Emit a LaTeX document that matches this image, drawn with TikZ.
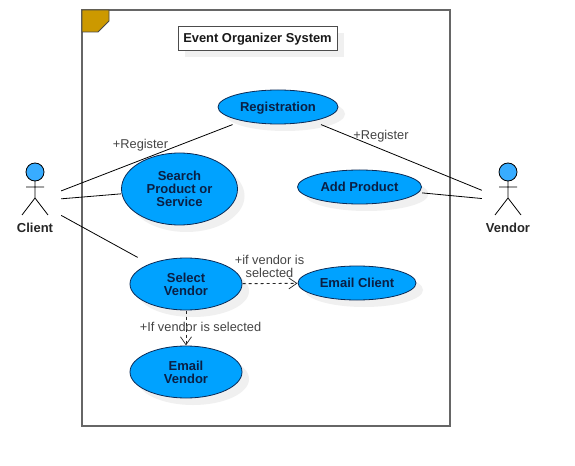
\documentclass[tikz,border=0pt]{standalone}
\usepackage{fontspec}
\setmainfont{Liberation Sans}
\usetikzlibrary{arrows.meta,shapes.geometric,shadows,fit}
\definecolor{ucfill}{HTML}{00A2FF}
\definecolor{ucline}{HTML}{0B2A55}
\definecolor{uctext}{HTML}{0A1F44}
\definecolor{framegray}{HTML}{666666}
\definecolor{tabgold}{HTML}{CC9900}
\definecolor{headblue}{HTML}{38ACFF}
\definecolor{labelgray}{HTML}{444444}
\definecolor{shadowgray}{HTML}{F0F0F0}
\tikzset{
  softshadow/.style={general shadow={fill=shadowgray,shadow xshift=7bp,shadow yshift=-7bp}},
  usecase/.style 2 args={ellipse,draw=ucline,line width=0.8bp,fill=ucfill,softshadow,
    minimum width=#1bp,minimum height=#2bp,inner sep=0pt,align=center,text=uctext,
    font=\fontsize{13bp}{13bp}\selectfont\bfseries},
  usebox/.style={rectangle,inner sep=0pt,draw=none},
  actorbox/.style={rectangle,draw=none,minimum width=52bp,minimum height=76bp,inner sep=0pt},
  actorname/.style={text=black!85,font=\fontsize{13bp}{13bp}\selectfont\bfseries},
  assoc/.style={draw=black,line width=0.8bp},
  depend/.style={draw=black!85,line width=0.9bp,dash pattern=on 3bp off 3bp,
    -{Straight Barb[length=8bp,width=11bp,line width=0.7bp]}},
  lbl/.style={text=labelgray,align=center,inner sep=0pt,font=\fontsize{12.8bp}{13bp}\selectfont},
  capline/.style={text height=9.3bp,text depth=0bp},
  actorpic/.style={draw=black,line width=0.8bp},
  actor/.pic={
    \draw[actorpic,fill=headblue] (0,-29) circle[radius=9];
    \draw[actorpic] (0,-20) -- (0,-3) (-9,-14) -- (9,-14)
      (-13,14) -- (0,-3) -- (13,14);
  }
}
\begin{document}
\begin{tikzpicture}[x=1bp,y=-1bp]
\useasboundingbox[fill=white] (0,0) rectangle (575,466);
% system frame
\draw[framegray,line width=1.1bp] (82,10) rectangle (450,426);
\draw[fill=tabgold,draw=framegray!70!black,line width=0.8bp] (82,10) -- (109,10) -- (109,21) -- (98,32) -- (82,32) -- cycle;
\node[rectangle,draw=black!70,line width=0.9bp,fill=white,softshadow,minimum width=159bp,minimum height=24bp,inner sep=0pt,capline,
  font=\fontsize{12.9bp}{13bp}\selectfont\bfseries,text=black!90] (title) at (257.5,38) {Event Organizer System};
% use cases
\node[usecase={120}{34},capline] (regE) at (278,107) {Registration};
\node[usecase={116}{72},text depth=-2bp] (searchE) at (179.5,189) {Search\\Product or\\Service};
\node[usecase={124}{34}] (addE) at (359.5,187) {Add Product};
\node[usecase={112}{52}] (selectE) at (186,284) {Select\\Vendor};
\node[usecase={118}{34}] (mailcE) at (357,283) {Email Client};
\node[usecase={112}{52}] (mailvE) at (186,372) {Email\\Vendor};
% connector boxes of the use cases
\node[usebox,fit=(regE)] (reg) {};
\node[usebox,fit=(searchE)] (search) {};
\node[usebox,fit=(addE)] (add) {};
\node[usebox,fit=(selectE)] (select) {};
\node[usebox,fit=(mailcE)] (mailc) {};
\node[usebox,fit=(mailvE)] (mailv) {};
% actors
\node[actorbox] (client) at (35,201) {};
\node[actorbox] (vendor) at (508,201) {};
\pic at (client.center) {actor};
\pic at (vendor.center) {actor};
\node[actorname] (clientname) at (35,228) {Client};
\node[actorname] (vendorname) at (508,228) {Vendor};
% connectors
\draw[assoc] (client) -- (reg);
\draw[assoc] (client) -- (search);
\draw[assoc] (client) -- (select);
\draw[assoc] (vendor) -- (reg);
\draw[assoc] (vendor) -- (add);
\draw[depend] (select) -- (mailc);
\draw[depend] (select) -- (mailv);
% labels
\node[lbl,capline] (l1) at (140.5,143.5) {+Register};
\node[lbl,capline] (l2) at (381,134.5) {+Register};
\node[lbl] (l3) at (269.5,266) {+if vendor is\\selected};
\node[lbl] (l4) at (200.5,326.5) {+If vendor is selected};
\end{tikzpicture}
\end{document}
